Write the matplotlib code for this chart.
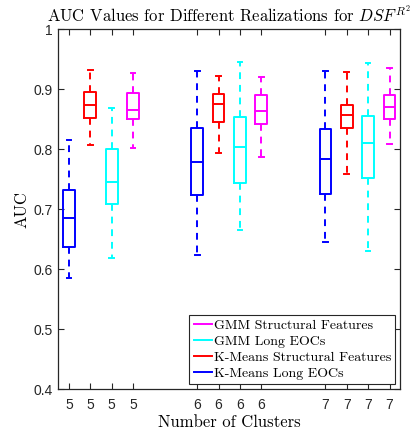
import matplotlib
matplotlib.use('Agg')
import matplotlib.pyplot as plt
from matplotlib.lines import Line2D

# box stats per method, one entry per cluster count (5, 6, 7)
clusters = [5, 6, 7]
methods = ['K-Means Long EOCs', 'K-Means Structural Features',
           'GMM Long EOCs', 'GMM Structural Features']
colors = ['#0000ff', '#ff0000', '#00ffff', '#ff00ff']

# [whislo, q1, med, q3, whishi]
kmeans_eoc = [[0.586, 0.637, 0.685, 0.732, 0.815],
              [0.624, 0.723, 0.778, 0.835, 0.931],
              [0.645, 0.725, 0.784, 0.833, 0.930]]
kmeans_sf = [[0.807, 0.852, 0.873, 0.895, 0.932],
             [0.793, 0.845, 0.875, 0.892, 0.922],
             [0.759, 0.836, 0.857, 0.874, 0.928]]
gmm_eoc = [[0.618, 0.709, 0.745, 0.800, 0.868],
           [0.666, 0.743, 0.803, 0.854, 0.945],
           [0.631, 0.752, 0.810, 0.856, 0.944]]
gmm_sf = [[0.802, 0.850, 0.866, 0.893, 0.927],
          [0.787, 0.842, 0.864, 0.890, 0.920],
          [0.809, 0.851, 0.871, 0.890, 0.935]]
series = [kmeans_eoc, kmeans_sf, gmm_eoc, gmm_sf]

plt.rcParams['mathtext.fontset'] = 'cm'
serif = 'cmr10'

fig = plt.figure(figsize=(4.16, 4.36), dpi=100)
ax = fig.add_axes([0.139, 0.107, 0.823, 0.826])

ticks = []
for g in range(len(clusters)):
    for m in range(len(methods)):
        pos = g * 6 + m
        lo, q1, med, q3, hi = series[m][g]
        st = dict(whislo=lo, q1=q1, med=med, q3=q3, whishi=hi, fliers=[])
        c = colors[m]
        ax.bxp([st], positions=[pos], widths=0.55, capwidths=0.22,
               showfliers=False,
               boxprops=dict(color=c, lw=1.4),
               medianprops=dict(color=c, lw=1.4),
               whiskerprops=dict(color=c, lw=1.4, ls=(0, (3.5, 3))),
               capprops=dict(color=c, lw=1.4))
        ticks.append(pos)

ax.set_xticks(ticks)
ax.set_xticklabels([str(clusters[g]) for g in range(3) for m in range(4)])
ax.set_xlim(-0.52, 15.5)
ax.set_ylim(0.4, 1.0)
ax.set_yticks([0.4, 0.5, 0.6, 0.7, 0.8, 0.9, 1.0])
ax.set_yticklabels(['0.4', '0.5', '0.6', '0.7', '0.8', '0.9', '1'])
ax.tick_params(direction='in', top=True, right=True, length=4, width=0.8,
               labelsize=10, colors='#262626')
ax.tick_params(axis='x', pad=6)
for lab in ax.get_xticklabels() + ax.get_yticklabels():
    lab.set_fontfamily('Liberation Sans')
for sp in ax.spines.values():
    sp.set_linewidth(0.9)
    sp.set_color('#262626')

ax.set_title(r'AUC Values for Different Realizations for $DSF^{R^2}$',
             fontfamily=serif, fontsize=12, pad=5)
ax.set_xlabel('Number of Clusters', fontfamily=serif, fontsize=12, labelpad=2)
ax.set_ylabel('AUC', fontfamily=serif, fontsize=12, labelpad=3)

handles = [Line2D([], [], color=colors[m], lw=1.4) for m in [3, 2, 1, 0]]
labels = [methods[m] for m in [3, 2, 1, 0]]
leg = ax.legend(handles, labels, loc='lower right', prop=dict(family=serif, size=10),
                handlelength=1.3, handletextpad=0.15, labelspacing=0.25,
                borderpad=0.3, borderaxespad=0.35, fancybox=False,
                edgecolor='#262626', framealpha=1)
leg.get_frame().set_linewidth(0.8)

fig.savefig('out.png', dpi=100)
